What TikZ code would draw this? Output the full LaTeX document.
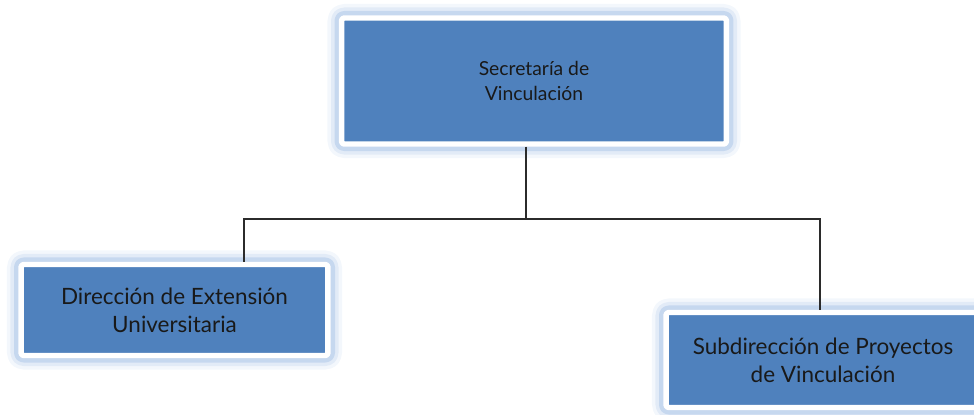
\documentclass[tikz,border=0pt]{standalone}
\usepackage{fontspec}
\setmainfont{Lato}
\usepackage{xcolor}
\usetikzlibrary{positioning}
\definecolor{boxblue}{HTML}{4F81BD}
\definecolor{glowblue}{HTML}{9DBBE3}
\definecolor{linegray}{HTML}{2B2B2B}
\tikzset{
    orgbox/.style={draw=white, line width=3.1pt, fill=boxblue, align=center,
        text=black!90, inner sep=0pt, rounded corners=1.5pt, line join=round,
        preaction={draw=glowblue, line width=16pt, opacity=.12, rounded corners=6pt},
        preaction={draw=glowblue, line width=12pt, opacity=.2, rounded corners=4pt},
        preaction={draw=glowblue, line width=8pt, opacity=.4, rounded corners=3pt}},
    orgline/.style={draw=linegray, line width=1.1pt}
}

\begin{document}
\begin{tikzpicture}[x=0.02cm,y=-0.02cm]
    \useasboundingbox (0,0) rectangle (974,414);

    \node[orgbox, minimum width=7.7cm, minimum height=2.52cm, font=\fontsize{11}{14}\selectfont] (sec) at (534,81) {Secretaría de\\Vinculación};
    \node[orgbox, minimum width=6.14cm, minimum height=1.82cm, font=\fontsize{12.8}{16}\selectfont] (dir) at (174.5,310) {Dirección de Extensión\\Universitaria};
    \node[orgbox, minimum width=6.28cm, minimum height=1.9cm, font=\fontsize{12.8}{16}\selectfont] (sub) at (823,360) {Subdirección de Proyectos\\de Vinculación};

    % ramas
    \coordinate (fork) at (526,219);
    \coordinate (lknee) at (244,219);
    \coordinate (rknee) at (820,219);
    \draw[orgline] (fork |- sec.south) -- (fork);
    \draw[orgline] (lknee |- dir.north) -- (lknee) -- (rknee) -- (rknee |- sub.north);

\end{tikzpicture}
\end{document}
